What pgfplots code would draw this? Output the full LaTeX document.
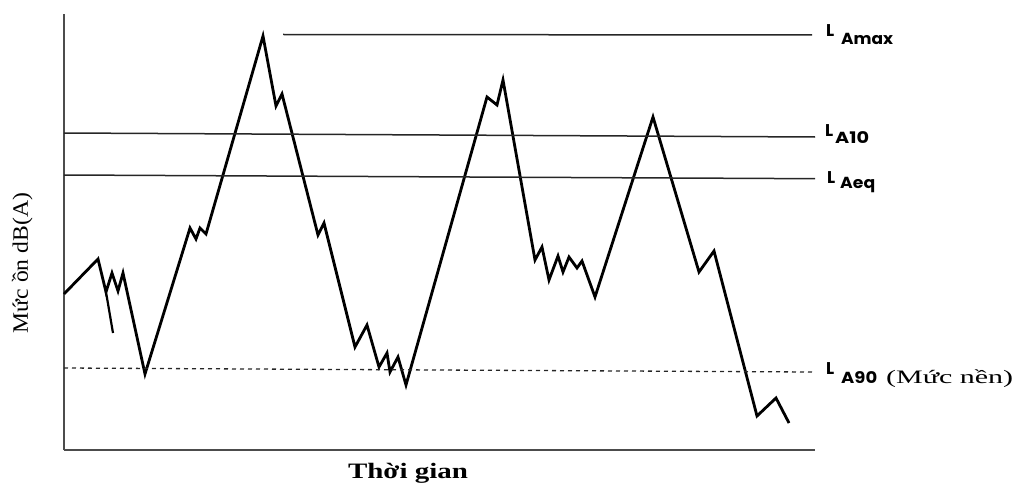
\documentclass[border=0pt]{standalone}
\usepackage{fontspec}
\setmainfont{Liberation Serif}
\newfontfamily\labfont{Poppins}
\usepackage{graphicx}
\usepackage{pgfplots}
\pgfplotsset{compat=1.18}
\begin{document}
\begin{tikzpicture}
\begin{axis}[
  x=1pt, y=1pt,
  xmin=64, xmax=815, ymin=33, ymax=469,
  axis x line=bottom, axis y line=left,
  axis line style={-, line width=1.6pt, color=black!70},
  xtick=\empty, ytick=\empty,
  clip=false,
]
\path (axis cs:0,0) rectangle (axis cs:1016,483);
% main noise level trace
\addplot[black, line width=2.8pt, line join=miter, mark=none] coordinates {
(64,189)(98,224)(106,191)(112,210)(118,192)(123,210)(145,109)
(190,255)(196,244)(200,255)(206,249)(263,447)(276,377)(282,389)
(318,248)(324,260)(355,136)(367,158)(379,116)(387,130)(390,111)
(398,126)(406,98)(487,386)(497,378)(503,403)(535,223)(542,236)
(549,203)(558,227)(563,211)(569,226)(577,215)(582,222)(595,186)
(653,366)(699,211)(714,232)(757,67)(776,85)(789,60)};
\addplot[black, line width=2.2pt, mark=none] coordinates {(106,191)(113,150)};
% statistical levels
\addplot[black!85, line width=1.5pt, mark=none] coordinates {(283,448.5)(812,448)};
\addplot[black!85, line width=1.5pt, mark=none] coordinates {(64,350)(815,346)};
\addplot[black!85, line width=1.5pt, mark=none] coordinates {(64,308)(815,304.3)};
\addplot[black!85, line width=1.3pt, dash pattern=on 4pt off 4pt, mark=none] coordinates {(64,115)(812,111)};
% labels
\node[anchor=base west, inner sep=0] at (axis cs:826,446) {\labfont\bfseries\fontsize{17}{17}\selectfont L};
\node[anchor=base west, inner sep=0] at (axis cs:841,438) {\resizebox{52pt}{\height}{\labfont\bfseries\fontsize{16}{16}\selectfont Amax}};
\node[anchor=base west, inner sep=0] at (axis cs:825,347) {\labfont\bfseries\fontsize{17}{17}\selectfont L};
\node[anchor=base west, inner sep=0] at (axis cs:835,340) {\resizebox{34pt}{\height}{\labfont\bfseries\fontsize{16}{16}\selectfont A10}};
\node[anchor=base west, inner sep=0] at (axis cs:827,300) {\labfont\bfseries\fontsize{17}{17}\selectfont L};
\node[anchor=base west, inner sep=0] at (axis cs:840,295) {\resizebox{35pt}{\height}{\labfont\bfseries\fontsize{16}{16}\selectfont Aeq}};
\node[anchor=base west, inner sep=0] at (axis cs:826,109) {\labfont\bfseries\fontsize{17}{17}\selectfont L};
\node[anchor=base west, inner sep=0] at (axis cs:841,100) {\resizebox{36pt}{\height}{\labfont\bfseries\fontsize{16}{16}\selectfont A90}};
\node[anchor=base west, inner sep=0] at (axis cs:886,100) {\resizebox{127pt}{\height}{\fontsize{19}{19}\selectfont (Mức nền)}};
\node[anchor=base, inner sep=0] at (axis cs:408,5) {\resizebox{120pt}{\height}{\fontsize{22}{22}\selectfont\bfseries Thời gian}};
\node[anchor=base, rotate=90, inner sep=0] at (axis cs:28,220) {\resizebox{140pt}{\height}{\fontsize{22}{22}\selectfont Mức ồn dB(A)}};
\end{axis}
\end{tikzpicture}
\end{document}
